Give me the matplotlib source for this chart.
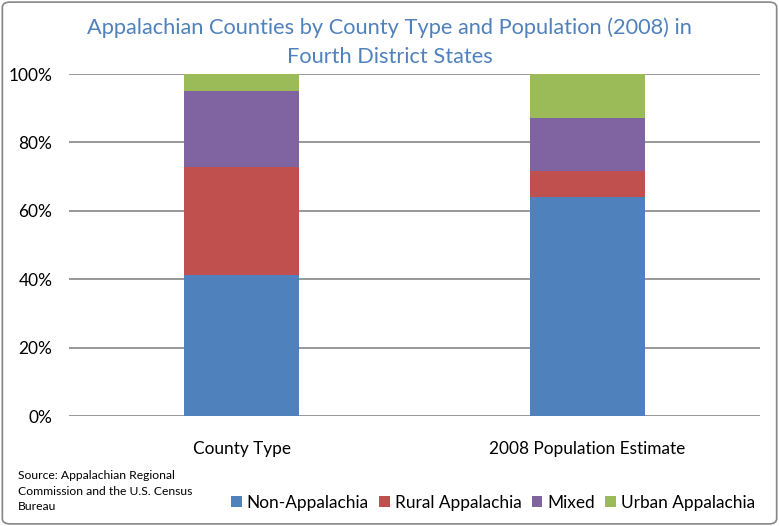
import numpy as np
import matplotlib.pyplot as plt
from matplotlib.patches import FancyBboxPatch
from matplotlib.ticker import FuncFormatter

plt.rcParams['font.family'] = ['Lato', 'DejaVu Sans']

# data (percent of total)
categories = ['County Type', '2008 Population Estimate']
non_appalachia = [41.3, 64.1]
rural_appalachia = [31.4, 7.4]
mixed = [22.4, 15.7]
urban_appalachia = [4.9, 12.8]
series_names = ['Non-Appalachia', 'Rural Appalachia', 'Mixed', 'Urban Appalachia']
colors = ['#4F81BD', '#C0504D', '#8064A2', '#9BBB59']

fig = plt.figure(figsize=(7.79, 5.26), dpi=100)
ax = fig.add_axes([0.0886, 0.2091, 0.887, 0.6502])

x = np.arange(len(categories))
bottom = np.zeros(len(categories))
for vals, name, col in zip([non_appalachia, rural_appalachia, mixed, urban_appalachia], series_names, colors):
    ax.bar(x, vals, width=0.333, bottom=bottom, color=col, label=name, zorder=3)
    bottom += np.array(vals)

ax.set_xlim(-0.5, 1.5)
ax.set_ylim(0, 100)
ax.set_yticks(np.arange(0, 101, 20))
ax.yaxis.set_major_formatter(FuncFormatter(lambda v, p: f'{int(v)}%'))
ax.set_xticks(x)
ax.set_xticklabels(categories)
ax.grid(axis='y', color='#868686', linewidth=1.2, zorder=0)
for s in ax.spines.values():
    s.set_visible(False)
ax.tick_params(axis='both', length=0, labelsize=12.4, colors='black')
ax.tick_params(axis='y', pad=12)
ax.tick_params(axis='x', pad=18)

fig.text(0.5, 0.948, 'Appalachian Counties by County Type and Population (2008) in',
         ha='center', va='center', fontsize=15.7, color='#4F81BD')
fig.text(0.5, 0.891, 'Fourth District States',
         ha='center', va='center', fontsize=15.7, color='#4F81BD')

fig.text(0.023, 0.066, 'Source: Appalachian Regional\nCommission and the U.S. Census\nBureau',
         ha='left', va='center', fontsize=8.7, linespacing=1.5)

leg = fig.legend(loc='center right', bbox_to_anchor=(0.978, 0.044), ncol=4, frameon=False,
                 fontsize=12.4, handlelength=0.6, handleheight=0.6, handletextpad=0.3,
                 columnspacing=0.6, borderaxespad=0)

border = FancyBboxPatch((0.003, 0.004), 0.994, 0.992, boxstyle='round,pad=0,rounding_size=0.01',
                        transform=fig.transFigure, fill=False, edgecolor='#868686', linewidth=1.2)
fig.patches.append(border)

fig.savefig('out.png', dpi=100)
